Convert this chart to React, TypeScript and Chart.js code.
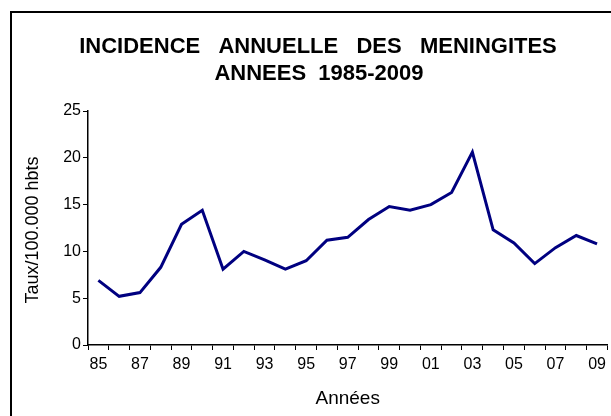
import React, { useEffect, useRef } from "react";
import { Chart, registerables } from "chart.js";

Chart.register(...registerables);

const years = ["85","86","87","88","89","90","91","92","93","94","95","96","97","98","99","00","01","02","03","04","05","06","07","08","09"];
const incidence = [6.9, 5.2, 5.6, 8.3, 12.9, 14.4, 8.1, 10.0, 9.1, 8.1, 9.0, 11.2, 11.5, 13.4, 14.8, 14.4, 15.0, 16.3, 20.6, 12.3, 10.9, 8.7, 10.4, 11.7, 10.8];
const yTicks = [0, 5, 10, 15, 20, 25];
const titleLines = ["INCIDENCE  ANNUELLE  DES  MENINGITES", "ANNEES  1985-2009"];
const yTitle = "Taux/100.000 hbts";
const xTitle = "Années";

const FONT = "'Liberation Sans', Arial, sans-serif";

const decor = {
  id: "decor",
  afterDraw(chart: any) {
    const ctx = chart.ctx;
    const area = chart.chartArea;
    ctx.save();
    // frame
    ctx.strokeStyle = "#000";
    ctx.lineWidth = 2;
    ctx.beginPath();
    ctx.moveTo(11, 440);
    ctx.lineTo(11, 12);
    ctx.lineTo(640, 12);
    ctx.stroke();
    // title
    ctx.fillStyle = "#000";
    ctx.font = `bold 22px ${FONT}`;
    ctx.textAlign = "center";
    ctx.textBaseline = "middle";
    (ctx as any).wordSpacing = "3px";
    ctx.fillText(titleLines[0], 318, 47);
    (ctx as any).wordSpacing = "0px";
    ctx.fillText(titleLines[1], 319, 74);
    // x title
    ctx.font = `19px ${FONT}`;
    ctx.fillText(xTitle, (area.left + area.right) / 2, 399);
    // y title
    ctx.translate(33, (area.top + area.bottom) / 2 + 2);
    ctx.rotate(-Math.PI / 2);
    ctx.font = `18px ${FONT}`;
    ctx.fillText(yTitle, 0, 0);
    ctx.restore();
  },
};

export default function App() {
  const ref = useRef<HTMLCanvasElement>(null);
  useEffect(() => {
    if (!ref.current) return;
    const chart = new Chart(ref.current, {
      type: "line",
      data: {
        labels: years,
        datasets: [
          {
            data: incidence,
            borderColor: "#000080",
            borderWidth: 3,
            pointRadius: 0,
            tension: 0,
            fill: false,
          },
        ],
      },
      options: {
        responsive: false,
        animation: false,
        devicePixelRatio: 1,
        layout: { padding: { top: 111, left: 0, right: 3, bottom: 0 } },
        plugins: { legend: { display: false }, tooltip: { enabled: false }, title: { display: false } },
        scales: {
          x: {
            type: "category",
            offset: true,
            grid: { display: true, offset: true, drawOnChartArea: false, drawTicks: true, tickLength: 5, color: "#000", lineWidth: 1 },
            border: { display: true, color: "#000", width: 1.5 },
            ticks: {
              autoSkip: false,
              maxRotation: 0,
              color: "#000",
              padding: 5,
              font: { family: FONT, size: 16 },
              callback: (_v: any, i: number) => (i % 2 === 0 ? years[i] : ""),
            },
            afterFit: (s: any) => { s.height = 71; },
          },
          y: {
            min: 0,
            max: 25,
            afterBuildTicks: (s: any) => { s.ticks = yTicks.map((v) => ({ value: v })); },
            grid: { display: true, drawOnChartArea: false, drawTicks: true, tickLength: 5, color: "#000", lineWidth: 1 },
            border: { display: true, color: "#000", width: 1.5 },
            ticks: { color: "#000", padding: 2, font: { family: FONT, size: 16 } },
            afterFit: (s: any) => { s.width = 88; },
          },
        },
      },
      plugins: [decor],
    });
    return () => chart.destroy();
  }, []);
  return (
    <canvas
      ref={ref}
      width={611}
      height={416}
      style={{ position: "absolute", left: 0, top: 0, display: "block", width: 611, height: 416 }}
    />
  );
}
